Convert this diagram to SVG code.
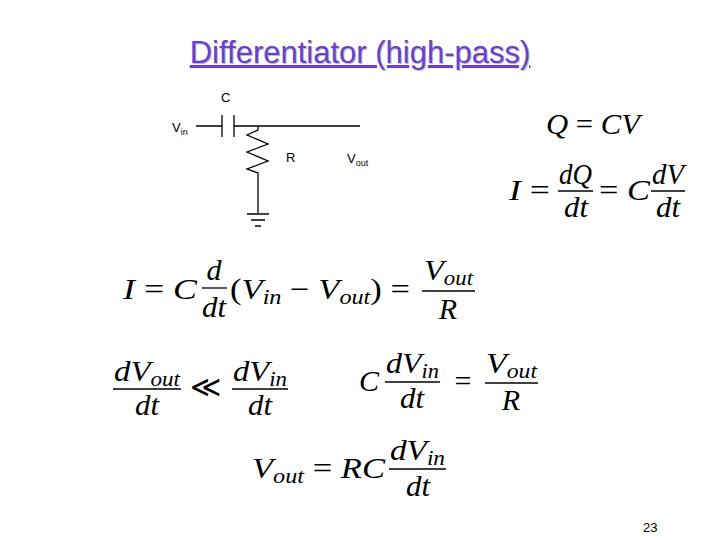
<svg xmlns="http://www.w3.org/2000/svg" width="720" height="540" viewBox="0 0 720 540">
<style>
.w{stroke:#000;stroke-width:1.3;fill:none}
.l{font-family:"Liberation Sans",Arial,sans-serif;font-size:13px;fill:#000}
.m{font-family:"Liberation Serif","Times New Roman",serif;font-style:italic;font-size:30px;fill:#000}
.n{font-style:normal}
.s{font-size:21px}
.b{stroke:#000;stroke-width:1.3}
</style>
<rect width="720" height="540" fill="#fff"/>
<g id="title">
<text x="361" y="64" text-anchor="middle" font-family="Liberation Sans,Arial,sans-serif" font-size="31" fill="#bbb">Differentiator (high-pass)</text>
<text x="360" y="63" text-anchor="middle" font-family="Liberation Sans,Arial,sans-serif" font-size="31" fill="#6a3fd0" text-decoration="underline">Differentiator (high-pass)</text>
</g>
<g id="circuit">
<path class="w" d="M196 126H222M222 115V137M234 115V137M234 126H360"/>
<path class="w" d="M258 126V130L247 135L268 144L247 152L268 161L247 169L258 173V213"/>
<path class="w" d="M247 214H269M251 220H265M255 226H261"/>
<text class="l" x="221" y="102">C</text>
<text class="l" x="172" y="132">V<tspan font-size="9" dy="3">in</tspan></text>
<text class="l" x="286" y="162">R</text>
<text class="l" x="347" y="163">V<tspan font-size="9" dy="3">out</tspan></text>
</g>
<g id="eqQ"><text class="m" x="546" y="134" textLength="94" lengthAdjust="spacingAndGlyphs">Q <tspan class="n">=</tspan> CV</text></g>
<g id="eqI">
<text class="m" x="509" y="200" textLength="41" lengthAdjust="spacingAndGlyphs">I <tspan class="n">=</tspan></text>
<text class="m" x="559" y="184" textLength="33" lengthAdjust="spacingAndGlyphs">dQ</text><line class="b" x1="558" y1="191" x2="593" y2="191"/><text class="m" x="564" y="217" textLength="24" lengthAdjust="spacingAndGlyphs">dt</text>
<text class="m" x="599" y="200" textLength="51" lengthAdjust="spacingAndGlyphs"><tspan class="n">=</tspan> C</text>
<text class="m" x="652" y="184" textLength="32" lengthAdjust="spacingAndGlyphs">dV</text><line class="b" x1="651" y1="191" x2="685" y2="191"/><text class="m" x="656" y="217" textLength="24" lengthAdjust="spacingAndGlyphs">dt</text>
</g>
<g id="eq1">
<text class="m" x="123" y="299" textLength="74" lengthAdjust="spacingAndGlyphs">I <tspan class="n">=</tspan> C</text>
<text class="m" x="214" y="280" text-anchor="middle">d</text><line class="b" x1="202" y1="288" x2="227" y2="288"/><text class="m" x="202" y="317" textLength="24" lengthAdjust="spacingAndGlyphs">dt</text>
<text class="m" x="230" y="299" textLength="180" lengthAdjust="spacingAndGlyphs"><tspan class="n">(</tspan>V<tspan class="s" dy="5">in</tspan><tspan dy="-5" class="n"> − </tspan>V<tspan class="s" dy="5">out</tspan><tspan dy="-5" class="n">) =</tspan></text>
<text class="m" x="424" y="280" textLength="49" lengthAdjust="spacingAndGlyphs">V<tspan class="s" dy="5">out</tspan></text><line class="b" x1="422" y1="291" x2="475" y2="291"/><text class="m" x="448" y="319" text-anchor="middle">R</text>
</g>
<g id="eq2">
<text class="m" x="114" y="381" textLength="66" lengthAdjust="spacingAndGlyphs">dV<tspan class="s" dy="5">out</tspan></text><line class="b" x1="113" y1="389" x2="181" y2="389"/><text class="m" x="135" y="415" textLength="24" lengthAdjust="spacingAndGlyphs">dt</text>
<text class="m n" x="205" y="397" text-anchor="middle">≪</text>
<text class="m" x="233" y="381" textLength="54" lengthAdjust="spacingAndGlyphs">dV<tspan class="s" dy="5">in</tspan></text><line class="b" x1="232" y1="389" x2="288" y2="389"/><text class="m" x="248" y="415" textLength="24" lengthAdjust="spacingAndGlyphs">dt</text>
</g>
<g id="eq3">
<text class="m" x="359" y="391">C</text>
<text class="m" x="386" y="373" textLength="53" lengthAdjust="spacingAndGlyphs">dV<tspan class="s" dy="5">in</tspan></text><line class="b" x1="385" y1="382" x2="440" y2="382"/><text class="m" x="400" y="408" textLength="24" lengthAdjust="spacingAndGlyphs">dt</text>
<text class="m n" x="463" y="391" text-anchor="middle">=</text>
<text class="m" x="486" y="373" textLength="51" lengthAdjust="spacingAndGlyphs">V<tspan class="s" dy="5">out</tspan></text><line class="b" x1="485" y1="383" x2="538" y2="383"/><text class="m" x="511" y="410" text-anchor="middle">R</text>
</g>
<g id="eq4">
<text class="m" x="252" y="478" textLength="133" lengthAdjust="spacingAndGlyphs">V<tspan class="s" dy="5">out</tspan><tspan class="n" dy="-5"> = </tspan>RC</text>
<text class="m" x="390" y="460" textLength="55" lengthAdjust="spacingAndGlyphs">dV<tspan class="s" dy="5">in</tspan></text><line class="b" x1="389" y1="469" x2="446" y2="469"/><text class="m" x="406" y="496" textLength="24" lengthAdjust="spacingAndGlyphs">dt</text>
</g>
<text x="643" y="532" font-family="Liberation Sans,Arial,sans-serif" font-size="13" fill="#000">23</text>
</svg>
